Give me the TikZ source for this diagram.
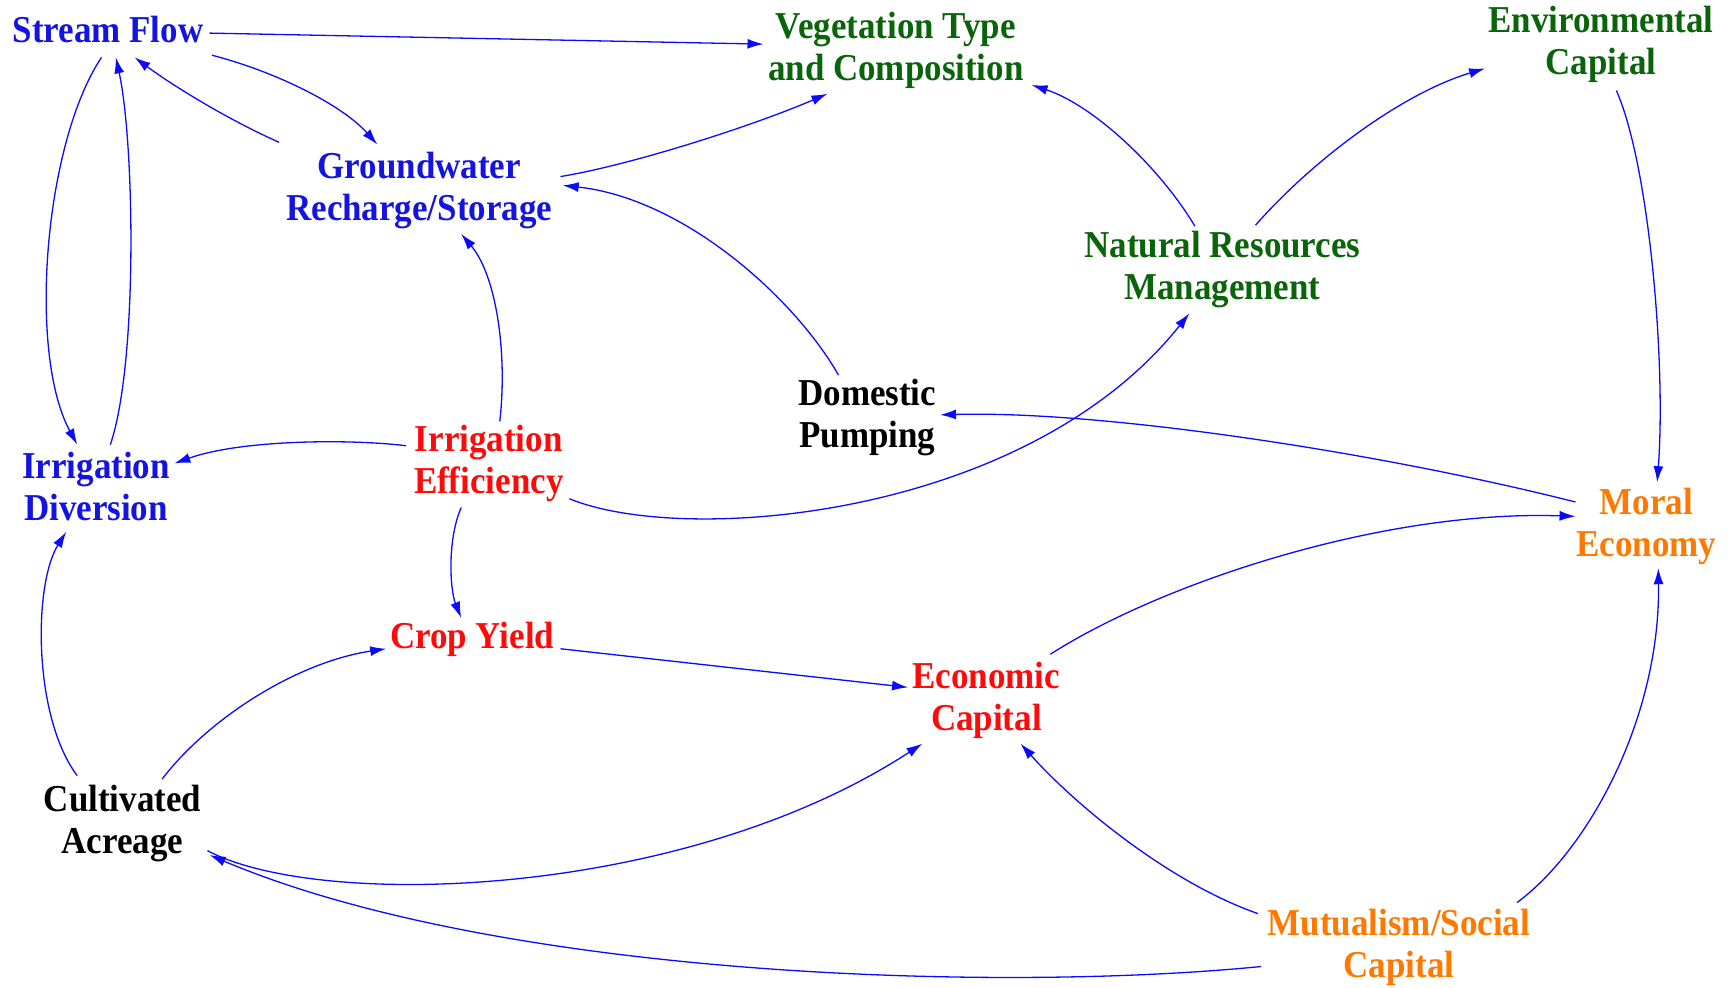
\documentclass[tikz,border=0pt]{standalone}
\usepackage{fontspec}
\setmainfont{Liberation Serif}[FakeStretch=0.92]
\usetikzlibrary{calc,arrows.meta}
\definecolor{tblue}{RGB}{20,20,225}
\definecolor{tgreen}{RGB}{10,100,10}
\definecolor{tred}{RGB}{255,10,10}
\definecolor{torange}{RGB}{255,120,0}
\definecolor{lineblue}{RGB}{10,10,255}
\begin{document}
\begin{tikzpicture}[x=1.1033pt,y=-1.1033pt,
  lbl/.style={align=center,inner sep=0pt,font=\fontsize{38}{42}\selectfont\bfseries},
  link/.style={draw=lineblue,line width=1.3pt,-{Latex[length=16pt,width=10pt]}}]
\useasboundingbox (0,0) rectangle (1568,895);
% nodes
\node[lbl,text=tblue] (sf) at (98,31) {\strut Stream Flow\strut};
\node[lbl,text=tgreen] (veg) at (812,46) {\strut Vegetation Type\\and Composition\strut};
\node[lbl,text=tgreen] (env) at (1451,41) {\strut Environmental\\Capital\strut};
\node[lbl,text=tblue] (gw) at (380,173) {\strut Groundwater\\Recharge/Storage\strut};
\node[lbl,text=tgreen] (nrm) at (1108,245) {\strut Natural Resources\\Management\strut};
\node[lbl,text=black] (dp) at (786,379) {\strut Domestic\\Pumping\strut};
\node[lbl,text=tred] (ie) at (443,421) {\strut Irrigation\\Efficiency\strut};
\node[lbl,text=tblue] (id) at (87,445) {\strut Irrigation\\Diversion\strut};
\node[lbl,text=torange] (me) at (1492,478) {\strut Moral\\Economy\strut};
\node[lbl,text=tred] (cy) at (428,580) {\strut Crop Yield\strut};
\node[lbl,text=tred] (ec) at (894,635) {\strut Economic\\Capital\strut};
\node[lbl,text=black] (ca) at (111,747) {\strut Cultivated\\Acreage\strut};
\node[lbl,text=torange] (ms) at (1268,859) {\strut Mutualism/Social\\Capital\strut};
% connectors
\draw[link] ($(sf)+(92,-1)$) -- ($(veg)+(-120,-6)$);
\draw[link] ($(sf)+(94,19)$) .. controls (250,65) and (310,95) .. ($(gw)+(-38,-42)$);
\draw[link] ($(gw)+(-127,-44)$) .. controls (210,110) and (160,80) .. ($(sf)+(24,21)$);
\draw[link] ($(sf)+(-6,21)$) .. controls (40,130) and (25,320) .. ($(id)+(-17,-42)$);
\draw[link] ($(id)+(13,-42)$) .. controls (125,330) and (122,130) .. ($(sf)+(7,21)$);
\draw[link] ($(gw)+(128,-13)$) .. controls (570,150) and (680,115) .. ($(veg)+(-62,39)$);
\draw[link] ($(dp)+(-26,-39)$) .. controls (720,270) and (620,180) .. ($(gw)+(130,-5)$);
\draw[link] ($(nrm)+(-25,-40)$) .. controls (1050,150) and (990,95) .. ($(veg)+(123,31)$);
\draw[link] ($(nrm)+(30,-41)$) .. controls (1190,145) and (1270,85) .. ($(env)+(-105,21)$);
\draw[link] ($(env)+(14,41)$) .. controls (1495,150) and (1510,330) .. ($(me)+(10,-41)$);
\draw[link] ($(ie)+(10,-39)$) .. controls (460,320) and (450,250) .. ($(gw)+(38,39)$);
\draw[link] ($(ie)+(-75,-17)$) .. controls (320,398) and (220,398) .. ($(id)+(71,-25)$);
\draw[link] ($(ie)+(73,31)$) .. controls (620,495) and (930,470) .. ($(nrm)+(-30,39)$);
\draw[link] ($(me)+(-64,-23)$) .. controls (1250,410) and (1000,372) .. ($(dp)+(66,-3)$);
\draw[link] ($(ec)+(58,-42)$) .. controls (1050,530) and (1250,462) .. ($(me)+(-64,-10)$);
\draw[link] ($(cy)+(80,8)$) -- ($(ec)+(-71,-12)$);
\draw[link] ($(ie)+(-25,39)$) .. controls (405,490) and (408,535) .. ($(cy)+(-10,-20)$);
\draw[link] ($(ca)+(36,-41)$) .. controls (190,650) and (270,600) .. ($(cy)+(-78,8)$);
\draw[link] ($(ca)+(-41,-44)$) .. controls (30,650) and (30,530) .. ($(id)+(-27,37)$);
\draw[link] ($(ca)+(77,24)$) .. controls (290,825) and (620,815) .. ($(ec)+(-58,39)$);
\draw[link] ($(ms)+(-125,17)$) .. controls (900,900) and (450,885) .. ($(ca)+(79,28)$);
\draw[link] ($(ms)+(-128,-31)$) .. controls (1060,800) and (975,730) .. ($(ec)+(31,39)$);
\draw[link] ($(ms)+(107,-41)$) .. controls (1440,770) and (1505,650) .. ($(me)+(11,37)$);
\end{tikzpicture}
\end{document}
